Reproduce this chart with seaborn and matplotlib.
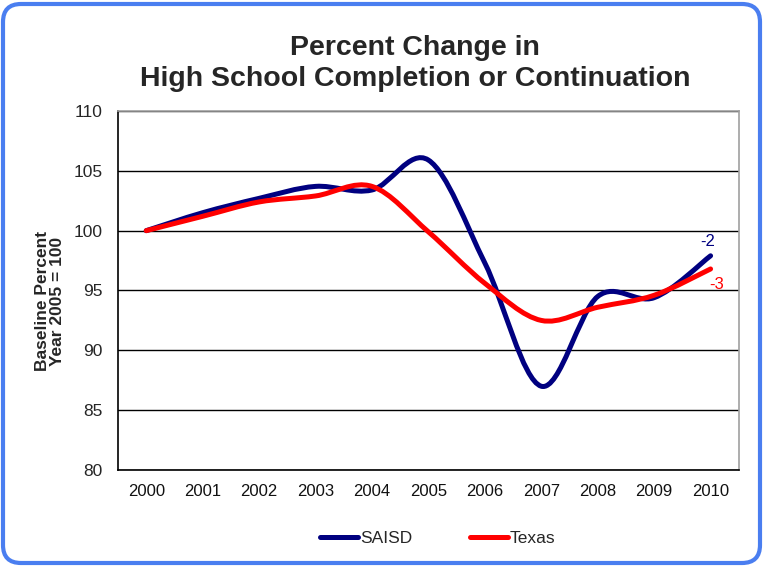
import numpy as np
import pandas as pd
import matplotlib
matplotlib.use("Agg")
import matplotlib.pyplot as plt
import seaborn as sns
from matplotlib.path import Path
from matplotlib.patches import PathPatch, FancyBboxPatch
from matplotlib.lines import Line2D
from matplotlib.ticker import MultipleLocator, FixedLocator

# ---------------- DATA ----------------
years = [2000, 2001, 2002, 2003, 2004, 2005, 2006, 2007, 2008, 2009, 2010]
saisd = [100, 101.5, 102.7, 103.7, 103.4, 105.9, 97.3, 87.0, 94.5, 94.4, 97.9]
texas = [100, 101.2, 102.4, 102.9, 103.7, 99.9, 95.6, 92.5, 93.6, 94.6, 96.8]
series_names = ["SAISD", "Texas"]
end_labels = ["-2", "-3"]
colors = {"SAISD": "#000080", "Texas": "#FF0000"}

df = pd.DataFrame({
    "year": years * 2,
    "value": saisd + texas,
    "series": ["SAISD"] * len(years) + ["Texas"] * len(years),
})

# ---------------- STYLE ----------------
sns.set_style("white")
plt.rcParams["font.family"] = ["Liberation Sans", "DejaVu Sans"]


def smooth_path(xy):
    # Excel style smoothed line: cubic bezier through each point
    n = len(xy)
    verts = [tuple(xy[0])]
    codes = [Path.MOVETO]
    for i in range(n - 1):
        p0 = xy[max(i - 1, 0)]
        p1 = xy[i]
        p2 = xy[i + 1]
        p3 = xy[min(i + 2, n - 1)]
        c1 = p1 + (p2 - p0) / 6.0
        c2 = p2 - (p3 - p1) / 6.0
        verts += [tuple(c1), tuple(c2), tuple(p2)]
        codes += [Path.CURVE4] * 3
    return Path(verts, codes)


fig = plt.figure(figsize=(7.64, 5.66), dpi=100)
ax = fig.add_axes([0.1545, 0.1696, 0.8125, 0.6343])

sns.lineplot(data=df, x="year", y="value", hue="series", palette=colors,
             hue_order=series_names, linewidth=3.6, legend=False, ax=ax)

# swap the straight seaborn lines for smoothed curves
for line, name in zip(list(ax.lines), series_names):
    xy = line.get_xydata()
    ax.add_patch(PathPatch(smooth_path(xy), fill=False, edgecolor=colors[name],
                           linewidth=3.6, capstyle="round", joinstyle="round",
                           zorder=3))
    line.remove()

# ---------------- AXES ----------------
ax.set_xlim(1999.5, 2010.5)
ax.set_ylim(80, 110)
ax.yaxis.set_major_locator(MultipleLocator(5))
ax.set_xticks(years)
ax.set_xticklabels([str(y) for y in years])
ax.xaxis.set_minor_locator(FixedLocator(np.arange(1999.5, 2011, 1)))
ax.tick_params(axis="x", which="major", length=0, pad=10, labelsize=12, colors="#111111")
ax.tick_params(axis="x", which="minor", length=5, width=1, color="black", direction="out")
ax.tick_params(axis="y", which="major", length=6, width=1, color="black",
               direction="out", labelsize=12.5, pad=5)
ax.grid(axis="y", color="black", linewidth=1, zorder=1)
ax.set_axisbelow(True)
for gl in ax.get_ygridlines()[-1:]:
    gl.set_color("#A0A0A0")

for s in ["left", "bottom"]:
    ax.spines[s].set_color("black")
    ax.spines[s].set_linewidth(1.2)
for s in ["top", "right"]:
    ax.spines[s].set_color("#A0A0A0")
    ax.spines[s].set_linewidth(1.2)

ax.set_xlabel("")
ax.set_ylabel("Baseline Percent\nYear 2005 = 100", fontsize=12.5, fontweight="bold",
              linespacing=1.0)
ax.yaxis.set_label_coords(-0.085, 0.47)

# end labels
ax.annotate(end_labels[0], (years[-1], saisd[-1]), xytext=(-2, 10),
            textcoords="offset points", ha="center", va="center",
            color=colors["SAISD"], fontsize=12)
ax.annotate(end_labels[1], (years[-1], texas[-1]), xytext=(4, -11),
            textcoords="offset points", ha="center", va="center",
            color=colors["Texas"], fontsize=12)

# ---------------- TITLE ----------------
fig.text(0.543, 0.888, "Percent Change in\nHigh School Completion or Continuation",
         ha="center", va="center", fontsize=20.5, fontweight="bold", linespacing=1.25)

# ---------------- LEGEND ----------------
handles = [Line2D([], [], color=colors[n], linewidth=3.6, solid_capstyle="round")
           for n in series_names]
fig.legend(handles, series_names, loc="center", bbox_to_anchor=(0.573, 0.049),
           ncol=2, frameon=False, fontsize=12.5, handlelength=2.2, handletextpad=0.1,
           columnspacing=3.3)

# ---------------- BORDER ----------------
fig.patches.append(FancyBboxPatch((3, 3), 757, 559,
                                  boxstyle="round,pad=0,rounding_size=18",
                                  transform=None, fill=False,
                                  edgecolor="#4A7EF0", linewidth=3))

fig.savefig("out.png", dpi=100)
